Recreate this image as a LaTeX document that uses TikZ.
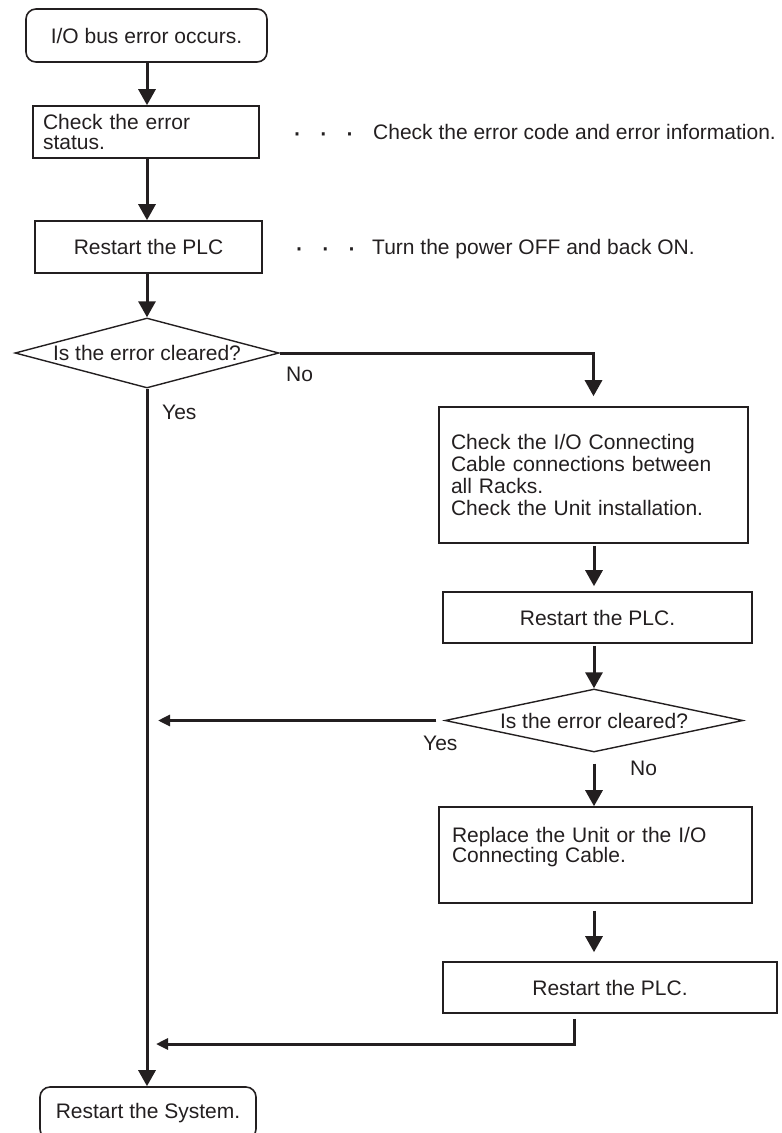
\documentclass[tikz,border=0pt]{standalone}
\usepackage{fontspec}
\setmainfont{Liberation Sans}
\usetikzlibrary{shapes.geometric,arrows.meta}
\definecolor{ink}{HTML}{231F20}
\begin{document}
\begin{tikzpicture}[x=1pt,y=-1pt,
  every node/.style={font=\fontsize{21}{24}\selectfont, text=ink},
  box/.style={draw=ink, line width=1.6pt, rectangle, inner sep=0pt, align=center},
  rbox/.style={box, rounded corners=10pt},
  lbox/.style={draw=ink, line width=1.6pt, rectangle, inner ysep=0pt, align=left},
  dec/.style={draw=ink, line width=1.4pt, diamond, inner sep=0pt, aspect=4.5},
  conn/.style={draw=ink, line width=3pt, -{Triangle[length=16pt,width=17pt]}},
  hconn/.style={draw=ink, line width=3pt, -{Triangle[length=12pt,width=11pt]}},
  lab/.style={anchor=west, inner sep=0pt},
  note/.style={anchor=base west, inner sep=0pt},
  dots/.style={anchor=base west, inner sep=0pt, font=\fontsize{30}{30}\selectfont}
]
\useasboundingbox (0,0) rectangle (782,1133);

\coordinate (mx) at (147,0);
\coordinate (rx) at (594,0);
\coordinate (bx) at (574,0);
\coordinate (j) at (147,1044);

% left column
\node[rbox, minimum width=241pt, minimum height=53pt] (b1) at (146.5,35.5) {I/O bus error occurs.};
\node[lbox, inner xsep=10pt, text width=206pt, minimum height=52pt,
      font=\fontsize{21}{19.5}\selectfont] (b2) at (146,132) {Check the error\\status.};
\node[box, minimum width=227pt, minimum height=52pt] (b3) at (148.5,247) {Restart the PLC};
\node[dec, minimum width=264pt, minimum height=70pt] (d1) at (147,353) {Is the error cleared?};
\node[rbox, minimum width=216pt, minimum height=52pt] (b8) at (148,1113) {Restart the System.};

% side notes
\node[dots] (dots1) at (292,142) {·\hspace{16.2pt}·\hspace{16.2pt}·};
\node[note] (n1) at (373,139.5) {Check the error code and error information.};
\node[dots] (dots2) at (294,257) {·\hspace{16.2pt}·\hspace{16.2pt}·};
\node[note] (n2) at (372,254.5) {Turn the power OFF and back ON.};

% right column
\node[lbox, inner xsep=12pt, text width=285pt, minimum height=136pt,
      font=\fontsize{21}{22}\selectfont] (b4) at (593.5,475)
  {Check the I/O Connecting\\Cable connections between\\all Racks.\\Check the Unit installation.};
\node[box, minimum width=309pt, minimum height=51pt] (b5) at (597.5,617.5) {Restart the PLC.};
\node[dec, minimum width=298pt, minimum height=63pt] (d2) at (594,720.5) {Is the error cleared?};
\node[lbox, inner xsep=13pt, text width=287pt, minimum height=96pt,
      font=\fontsize{21}{20}\selectfont] (b6) at (595.5,855)
  {Replace the Unit or the I/O\\Connecting Cable.\\\mbox{}};
\node[box, minimum width=334pt, minimum height=51pt] (b7) at (610,987.5) {Restart the PLC.};

% labels
\node[lab] (noA) at (286,374) {No};
\node[lab] (yesA) at (162,412) {Yes};
\node[lab] (yesB) at (423,743) {Yes};
\node[lab] (noB) at (630,768) {No};

% connectors
\draw[conn] (b1.south -| mx) -- (b2.north -| mx);
\draw[conn] (b2.south -| mx) -- (b3.north -| mx);
\draw[conn] (b3.south -| mx) -- (d1.north);
\draw[conn] (d1.south) -- (d1.south |- b8.north);
\draw[conn, shorten >=10pt] (d1.east) -| (b4.north);
\draw[conn, shorten <=2pt, shorten >=5pt] (b4.south -| rx) -- (b5.north -| rx);
\draw[conn, shorten <=2pt] (b5.south -| rx) -- (d2.north);
\draw[conn, shorten <=11pt] (d2.south) -- (b6.north -| rx);
\draw[conn, shorten <=7pt, shorten >=9pt] (b6.south -| rx) -- (b7.north -| rx);
\draw[hconn, shorten <=8pt, shorten >=11pt] (d2.west) -- (d2.west -| mx);
\draw[hconn, shorten <=5pt, shorten >=9pt] (b7.south -| bx) |- (j);
\end{tikzpicture}
\end{document}
